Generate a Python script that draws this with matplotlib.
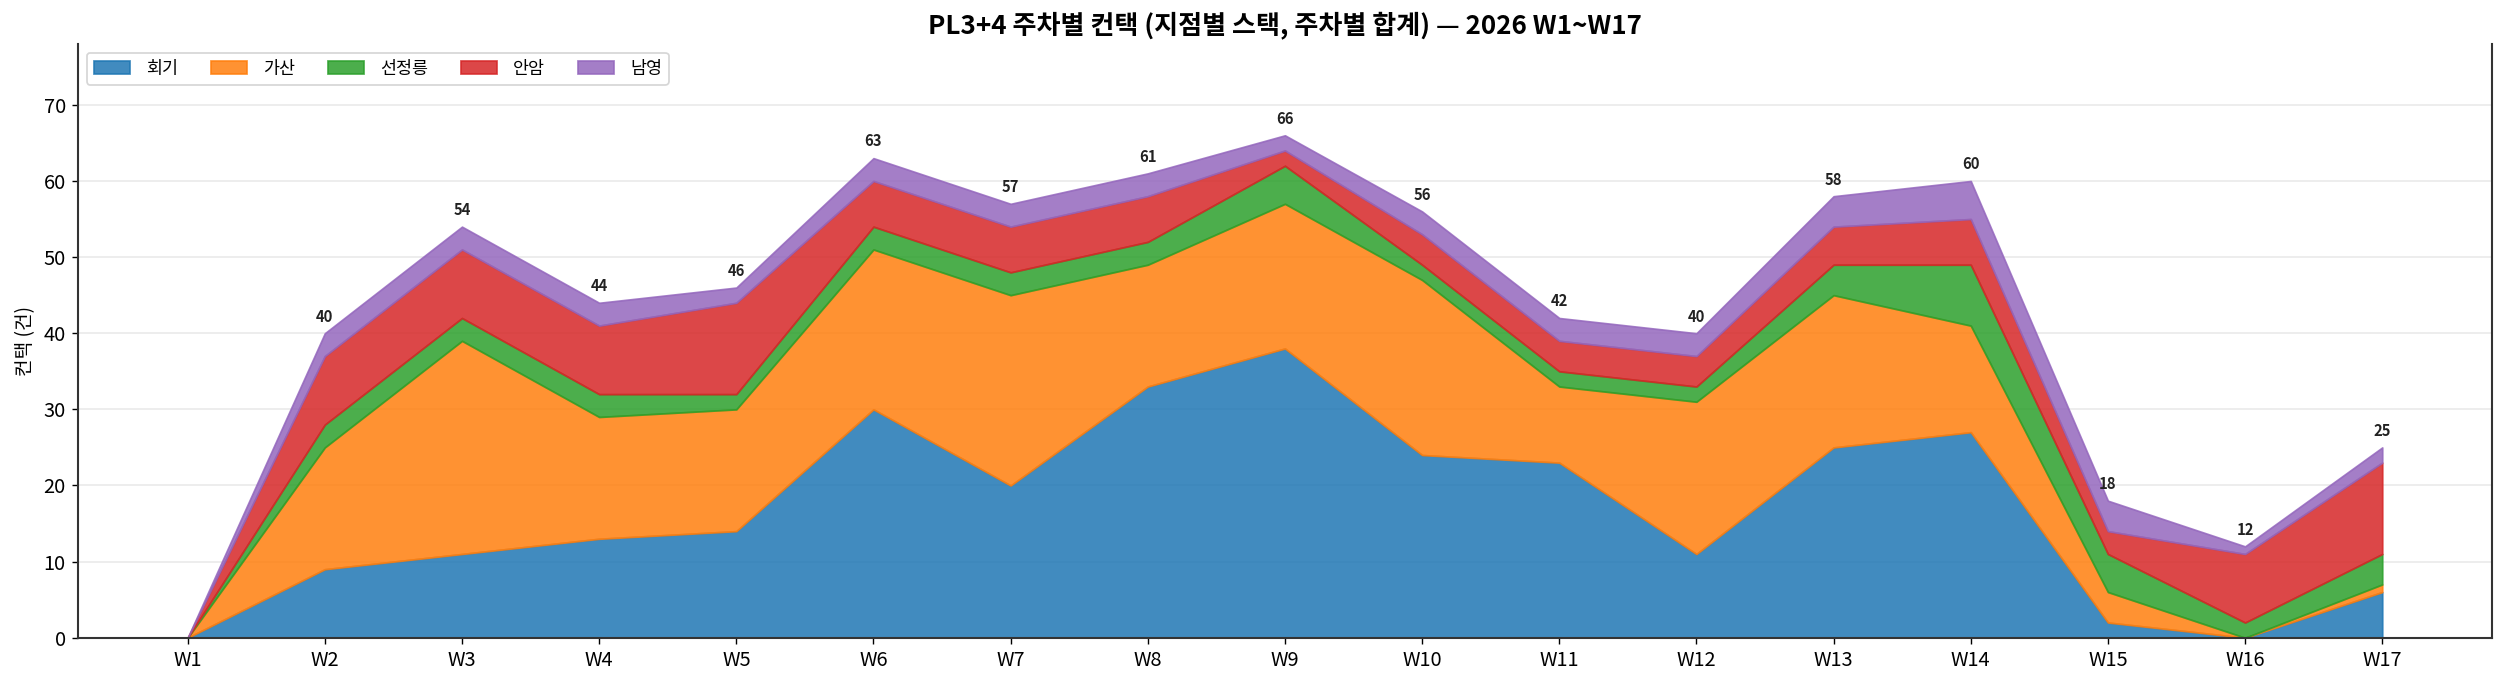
import matplotlib
matplotlib.use("Agg")
import matplotlib.pyplot as plt
import numpy as np

plt.rcParams['font.family'] = ['Noto Sans CJK KR', 'DejaVu Sans']

weeks = [f"W{i}" for i in range(1, 18)]
series_names = ["회기", "가산", "선정릉", "안암", "남영"]
hoegi   = [0, 9, 11, 13, 14, 30, 20, 33, 38, 24, 23, 11, 25, 27, 2, 0, 6]
gasan   = [0, 16, 28, 16, 16, 21, 25, 16, 19, 23, 10, 20, 20, 14, 4, 0, 1]
seonjeong = [0, 3, 3, 3, 2, 3, 3, 3, 5, 2, 2, 2, 4, 8, 5, 2, 4]
anam    = [0, 9, 9, 9, 12, 6, 6, 6, 2, 4, 4, 4, 5, 6, 3, 9, 12]
namyeong = [0, 3, 3, 3, 2, 3, 3, 3, 2, 3, 3, 3, 4, 5, 4, 1, 2]

colors = ["#1f77b4", "#ff7f0e", "#2ca02c", "#d62728", "#9467bd"]

fig = plt.figure(figsize=(2506/125, 685/125), dpi=125)
ax = fig.add_axes([0.0311, 0.069, 0.9944 - 0.0311, 0.9358 - 0.069])

x = np.arange(len(weeks))
data = [hoegi, gasan, seonjeong, anam, namyeong]
polys = ax.stackplot(x, *data, labels=series_names, colors=colors, alpha=0.85,
                     linewidth=1)
for p, c in zip(polys, colors):
    p.set_edgecolor(c)

totals = np.sum(np.array(data), axis=0)
for xi, t in zip(x, totals):
    if t > 0:
        ax.annotate(f"{int(t)}", (xi, t), xytext=(0, 5), textcoords="offset points",
                    ha="center", va="bottom", fontsize=8.5, fontweight="bold",
                    color="#222222")

ax.set_xticks(x)
ax.set_xticklabels(weeks, fontsize=11.5)
ax.set_yticks(range(0, 80, 10))
ax.tick_params(axis='y', labelsize=11.5)
ax.set_xlim(-0.8, 16.8)
ax.set_ylim(0, 78)
ax.set_ylabel("컨택 (건)", fontsize=11)
ax.set_title("PL3+4 주차별 컨택 (지점별 스택, 주차별 합계) — 2026 W1~W17",
             fontsize=15, fontweight="bold")
ax.grid(axis='y', color="#dddddd", alpha=0.6, linewidth=1)
ax.set_axisbelow(True)
ax.spines['top'].set_visible(False)
for s in ['left', 'right', 'bottom']:
    ax.spines[s].set_color("#333333")
    ax.spines[s].set_linewidth(1.2)

ax.legend(loc="upper left", ncol=5, fontsize=10, frameon=True, edgecolor="#cccccc",
          fancybox=True, handlelength=2.1, handletextpad=0.9, columnspacing=1.9)

fig.savefig("out.png", dpi=125)
